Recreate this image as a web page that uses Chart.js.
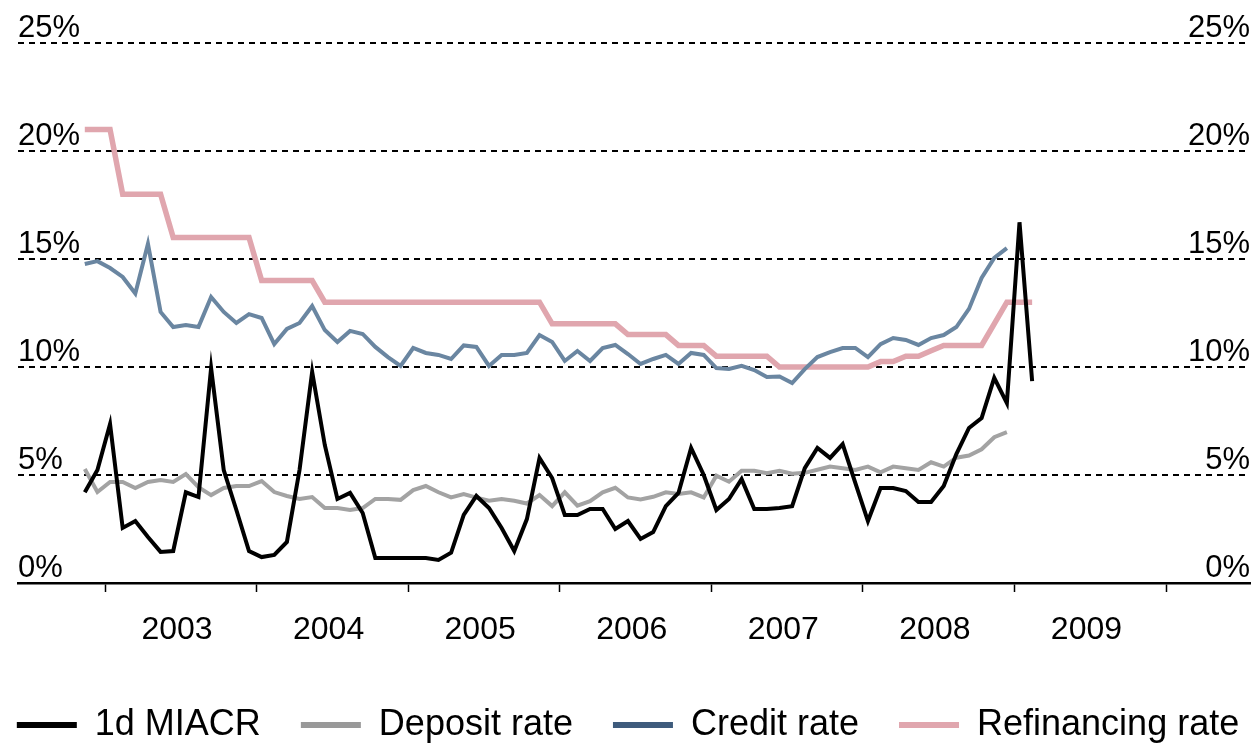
<!DOCTYPE html>
<html>
<head>
<meta charset="utf-8">
<script src="https://cdn.jsdelivr.net/npm/chart.js@4.4.1/dist/chart.umd.min.js"></script>
<style>
  html, body { margin: 0; padding: 0; background: #fff; }
  canvas { display: block; }
</style>
</head>
<body>
<canvas id="ratesChart" width="1256" height="745"></canvas>
<script>
// monthly observations, Nov 2002 .. Feb 2009
const months = [];
for (let y = 2002, m = 11; months.length < 76; m++) {
  if (m > 12) { m = 1; y++; }
  months.push(y + "-" + String(m).padStart(2, "0"));
}

const yearTicks = [2003, 2004, 2005, 2006, 2007, 2008, 2009, 2010];
const percentTicks = [0, 5, 10, 15, 20, 25];

const miacr = [
  4.2, 5.23,
  7.36, 2.55, 2.87, 2.13, 1.44, 1.48, 4.2, 3.98, 9.95, 5.23, 3.38, 1.48,
  1.2, 1.3, 1.9, 5.23, 9.77, 6.39, 3.89, 4.17, 3.24, 1.16, 1.16, 1.16,
  1.16, 1.16, 1.07, 1.4, 3.15, 4.03, 3.47, 2.55, 1.48, 2.96, 5.79, 4.86,
  3.15, 3.15, 3.43, 3.43, 2.5, 2.87, 2.04, 2.36, 3.56, 4.17, 6.25, 5.0,
  3.38, 3.89, 4.81, 3.43, 3.43, 3.47, 3.56, 5.32, 6.25, 5.79, 6.43, 4.63,
  2.87, 4.4, 4.4, 4.26, 3.75, 3.75, 4.49, 5.97, 7.18, 7.64, 9.5, 8.33,
  16.7, 9.35
];

const deposit = [
  5.28, 4.21,
  4.68, 4.68, 4.4, 4.68, 4.77, 4.68, 5.04, 4.44, 4.07, 4.4, 4.49, 4.49,
  4.72, 4.21, 4.03, 3.89, 3.98, 3.47, 3.47, 3.38, 3.47, 3.89, 3.89, 3.85,
  4.3, 4.49, 4.2, 3.96, 4.12, 3.95, 3.81, 3.89, 3.81, 3.68, 4.07, 3.56,
  4.2, 3.58, 3.79, 4.2, 4.41, 3.96, 3.87, 3.99, 4.2, 4.12, 4.2, 3.96,
  4.97, 4.69, 5.2, 5.2, 5.08, 5.2, 5.06, 5.1, 5.24, 5.39, 5.31, 5.23,
  5.39, 5.12, 5.39, 5.31, 5.23, 5.59, 5.39, 5.8, 5.9, 6.19, 6.75, 6.98
];

const credit = [
  14.77, 14.9,
  14.58, 14.17, 13.4, 15.7, 12.55, 11.85, 11.94, 11.85, 13.24, 12.55, 12.04, 12.45,
  12.27, 11.06, 11.76, 12.04, 12.82, 11.71, 11.16, 11.67, 11.53, 10.93, 10.46, 10.05,
  10.88, 10.65, 10.56, 10.37, 11.0, 10.93, 10.05, 10.56, 10.56, 10.65, 11.48, 11.16,
  10.28, 10.74, 10.28, 10.88, 11.02, 10.6, 10.14, 10.37, 10.56, 10.14, 10.65, 10.56,
  9.95, 9.91, 10.05, 9.86, 9.54, 9.56, 9.26, 9.9, 10.46, 10.69, 10.88, 10.88,
  10.46, 11.06, 11.34, 11.25, 11.02, 11.34, 11.48, 11.85, 12.69, 14.12, 15.05, 15.5
];

const refinancing = [
  21, 21,
  21, 18, 18, 18, 18, 16, 16, 16, 16, 16, 16, 16,
  14, 14, 14, 14, 14, 13, 13, 13, 13, 13, 13, 13,
  13, 13, 13, 13, 13, 13, 13, 13, 13, 13, 13, 12,
  12, 12, 12, 12, 12, 11.5, 11.5, 11.5, 11.5, 11, 11, 11,
  10.5, 10.5, 10.5, 10.5, 10.5, 10, 10, 10, 10, 10, 10, 10,
  10, 10.25, 10.25, 10.5, 10.5, 10.75, 11, 11, 11, 11, 12, 13,
  13, 13
];

const seriesLabels = ["1d MIACR", "Deposit rate", "Credit rate", "Refinancing rate"];
const lineColors = ["#000000", "#a3a3a3", "#6a86a1", "#e0a6ae"];
const legendColors = ["#000000", "#999999", "#3e5b7c", "#e0a6ae"];

function monthPos(label) {
  const [y, m] = label.split("-").map(Number);
  return y + (m - 1 + 0.4) / 12;
}

function toPoints(values) {
  return values.map((v, i) => ({ x: monthPos(months[i]), y: v }));
}

Chart.defaults.font.family = "'Liberation Sans', Arial, sans-serif";
Chart.defaults.color = "#000";

const ctx = document.getElementById("ratesChart").getContext("2d");

// legend is allowed to run a little past the canvas sides so it stays on one row
const sideBleed = 35;

const percentAxis = (position) => ({
  position: position,
  min: 0,
  max: 25,
  afterBuildTicks: (s) => { s.ticks = percentTicks.map((v) => ({ value: v })); },
  afterFit: (s) => { s.width = (position === "left" ? 18 : 6) + sideBleed; },
  grid: {
    display: position === "left",
    color: "#000",
    lineWidth: 2,
    drawTicks: false,
  },
  border: { display: false, dash: [6, 5] },
  ticks: {
    mirror: true,
    padding: 0,
    labelOffset: -15,
    color: "#000",
    font: { size: 31 },
    callback: (v) => v + "%",
  },
});

new Chart(ctx, {
  type: "line",
  data: {
    datasets: [
      { label: seriesLabels[0], data: toPoints(miacr), borderColor: lineColors[0], borderWidth: 4 },
      { label: seriesLabels[1], data: toPoints(deposit), borderColor: lineColors[1], borderWidth: 4 },
      { label: seriesLabels[2], data: toPoints(credit), borderColor: lineColors[2], borderWidth: 4 },
      { label: seriesLabels[3], data: toPoints(refinancing), borderColor: lineColors[3], borderWidth: 5.5 },
    ],
  },
  options: {
    responsive: false,
    animation: false,
    elements: {
      point: { radius: 0, hoverRadius: 0 },
      line: { tension: 0, fill: false },
    },
    layout: { padding: { top: 43, left: -sideBleed, right: -sideBleed, bottom: -8 } },
    plugins: {
      tooltip: { enabled: false },
      legend: {
        position: "bottom",
        labels: {
          color: "#000",
          font: { size: 36 },
          boxWidth: 60,
          boxHeight: 6,
          padding: 40,
          generateLabels: (chart) =>
            chart.data.datasets.map((ds, i) => ({
              text: ds.label,
              fillStyle: legendColors[i],
              strokeStyle: legendColors[i],
              lineWidth: 0,
              hidden: false,
              datasetIndex: i,
            })),
        },
      },
    },
    scales: {
      x: {
        type: "linear",
        min: 2002.426,
        max: 2010.554,
        afterBuildTicks: (s) => { s.ticks = yearTicks.map((v) => ({ value: v })); },
        afterFit: (s) => { s.height = 84; },
        grid: {
          drawOnChartArea: false,
          drawTicks: true,
          tickLength: 9,
          tickColor: "#000",
          tickWidth: 1.5,
        },
        border: { display: true, color: "#000", width: 2.5 },
        ticks: {
          autoSkip: false,
          maxRotation: 0,
          padding: 19,
          labelOffset: 72,
          color: "#000",
          font: { size: 32 },
          callback: (v) => (v === 2010 ? "" : String(v)),
        },
      },
      y: percentAxis("left"),
      y2: percentAxis("right"),
    },
  },
});
</script>
</body>
</html>
